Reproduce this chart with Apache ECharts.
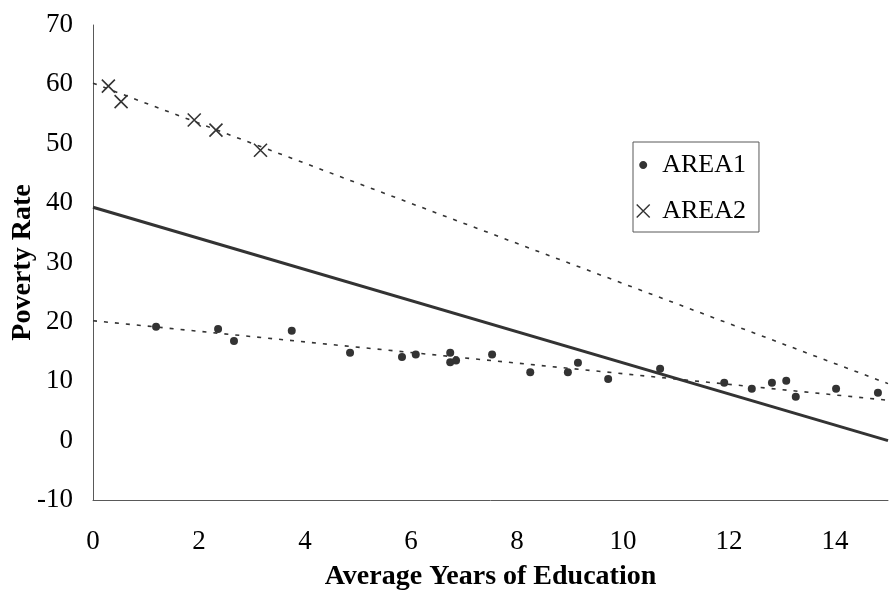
<!DOCTYPE html>
<html>
<head>
<meta charset="utf-8">
<script src="https://cdn.jsdelivr.net/npm/echarts@6/dist/echarts.min.js"></script>
<style>
html,body{margin:0;padding:0;background:#fff;}
#chart{width:889px;height:592px;}
</style>
</head>
<body>
<div id="chart"></div>
<script>
// AREA1 observations: [years of education, poverty rate]
var area1 = [
  [1.19, 19.2], [2.36, 18.8], [2.66, 16.8], [3.75, 18.5], [4.85, 14.8],
  [5.83, 14.1], [6.09, 14.5], [6.74, 14.8], [6.74, 13.2], [6.85, 13.5],
  [7.53, 14.5], [8.25, 11.5], [8.96, 11.5], [9.15, 13.1], [9.72, 10.4],
  [10.7, 12.1], [11.91, 9.75], [12.43, 8.74], [12.81, 9.75], [13.08, 10.08],
  [13.26, 7.4], [14.02, 8.74], [14.81, 8.07]
];
// AREA2 observations
var area2 = [
  [0.29, 59.7], [0.53, 57.1], [1.91, 54.0], [2.32, 52.3], [3.16, 48.9]
];
// Trend lines (endpoints)
var trendArea1 = [[0, 20.2], [15, 6.8]];
var trendArea2 = [[0, 60.2], [15, 9.6]];
var trendAll = [[0, 39.3], [15, 0.0]];
// Axis settings
var xTicks = {min: 0, max: 15, interval: 2};
var yTicks = {min: -10, max: 70, interval: 10};
var seriesNames = ['AREA1', 'AREA2'];

var serif = '"Liberation Serif", "Times New Roman", serif';
var ink = '#333333';
var xPath = 'path://M0,0L12,12M12,0L0,12';
var dotPath = 'path://M0,0M13,13M6.5,2.5C8.7,2.5 10.5,4.3 10.5,6.5C10.5,8.7 8.7,10.5 6.5,10.5C4.3,10.5 2.5,8.7 2.5,6.5C2.5,4.3 4.3,2.5 6.5,2.5Z';

var chart = echarts.init(document.getElementById('chart'), null, {renderer: 'canvas'});
chart.setOption({
  backgroundColor: '#ffffff',
  animation: false,
  grid: {left: 93, right: 1, top: 25, bottom: 92, containLabel: false, outerBoundsMode: 'none'},
  xAxis: {
    type: 'value',
    min: xTicks.min, max: xTicks.max, interval: xTicks.interval,
    name: 'Average Years of Education',
    nameLocation: 'middle',
    nameGap: 63,
    nameMoveOverlap: false,
    nameTextStyle: {fontFamily: serif, fontWeight: 'bold', fontSize: 28, color: '#000'},
    axisLine: {show: true, onZero: false, lineStyle: {color: '#595959', width: 1}},
    axisTick: {show: false},
    splitLine: {show: false},
    axisLabel: {fontFamily: serif, fontSize: 27, color: '#000', margin: 28,
      showMaxLabel: false}
  },
  yAxis: {
    type: 'value',
    min: yTicks.min, max: yTicks.max, interval: yTicks.interval,
    name: 'Poverty Rate',
    nameLocation: 'middle',
    nameGap: 56,
    nameMoveOverlap: false,
    nameTextStyle: {fontFamily: serif, fontWeight: 'bold', fontSize: 28, color: '#000'},
    axisLine: {show: true, onZero: false, lineStyle: {color: '#595959', width: 1}},
    axisTick: {show: false},
    splitLine: {show: false},
    axisLabel: {fontFamily: serif, fontSize: 27, color: '#000', margin: 20}
  },
  legend: {
    show: true,
    orient: 'vertical',
    left: 633, top: 142,
    padding: [10, 13, 8, 3],
    itemGap: 20,
    itemWidth: 28, itemHeight: 13,
    backgroundColor: '#fff',
    borderColor: '#595959', borderWidth: 1,
    textStyle: {fontFamily: serif, fontSize: 26, color: '#000'},
    data: [
      {name: seriesNames[0], icon: dotPath, itemStyle: {color: ink, borderWidth: 0}},
      {name: seriesNames[1], icon: xPath, itemStyle: {color: ink, borderColor: ink, borderWidth: 1.4}}
    ]
  },
  series: [
    {
      name: 'trendAll', type: 'line', data: trendAll, silent: true,
      showSymbol: false, symbol: 'none', z: 1,
      lineStyle: {color: ink, width: 3}
    },
    {
      name: 'trendArea1', type: 'line', data: trendArea1, silent: true,
      showSymbol: false, symbol: 'none', z: 1,
      lineStyle: {color: ink, width: 1.6, type: [4, 7]}
    },
    {
      name: 'trendArea2', type: 'line', data: trendArea2, silent: true,
      showSymbol: false, symbol: 'none', z: 1,
      lineStyle: {color: ink, width: 1.6, type: [4, 7]}
    },
    {
      name: seriesNames[0], type: 'scatter', data: area1, z: 3,
      symbol: 'circle', symbolSize: 8,
      itemStyle: {color: ink, opacity: 1}
    },
    {
      name: seriesNames[1], type: 'scatter', data: area2, z: 3,
      symbol: xPath, symbolSize: 13,
      itemStyle: {color: ink, borderColor: ink, borderWidth: 1.6, opacity: 1}
    }
  ]
});
</script>
</body>
</html>
